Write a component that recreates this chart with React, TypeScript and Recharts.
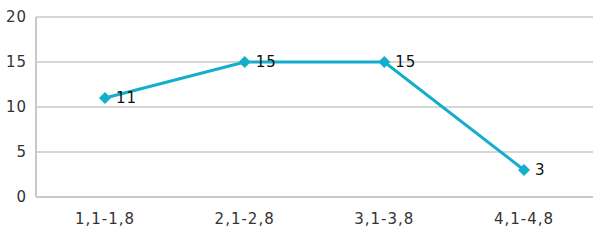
import { LineChart, Line, XAxis, YAxis, CartesianGrid, LabelList } from 'recharts'

const categories = ['1,1-1,8', '2,1-2,8', '3,1-3,8', '4,1-4,8']
const counts = [11, 15, 15, 3]
const yTicks = [0, 5, 10, 15, 20]

const data = categories.map((name, i) => ({ name, value: counts[i] }))

const Diamond = (props: any) => {
  const { cx, cy } = props
  if (cx == null || cy == null) return null
  const r = 6
  return (
    <path
      d={`M${cx},${cy - r}L${cx + r},${cy}L${cx},${cy + r}L${cx - r},${cy}Z`}
      fill="#13aecb"
    />
  )
}

const tickStyle = { fill: '#333', fontSize: 15, letterSpacing: 1 }

export default function App() {
  return (
    <div style={{ position: 'absolute', left: 0, top: 0, background: '#fff' }}>
      <LineChart
        width={606}
        height={243}
        data={data}
        margin={{ top: 17, right: 13, bottom: 16, left: 0 }}
        style={{ fontFamily: 'DejaVu Sans, Verdana, sans-serif' }}
      >
        <CartesianGrid vertical={false} stroke="#c8c8c8" strokeWidth={1.5} />
        <XAxis
          dataKey="name"
          stroke="#c8c8c8"
          strokeWidth={2}
          tickLine={false}
          padding={{ left: 69, right: 69 }}
          tick={tickStyle}
          tickMargin={10}
          height={30}
        />
        <YAxis
          width={36}
          domain={[0, 20]}
          ticks={yTicks}
          stroke="#c8c8c8"
          strokeWidth={2}
          tickLine={false}
          tick={tickStyle}
          tickMargin={3}
        />
        <Line
          type="linear"
          dataKey="value"
          stroke="#13aecb"
          strokeWidth={3}
          dot={<Diamond />}
          activeDot={false}
          isAnimationActive={false}
        >
          <LabelList
            dataKey="value"
            position="right"
            offset={11}
            fill="#111"
            fontSize={15}
            letterSpacing={1}
          />
        </Line>
      </LineChart>
    </div>
  )
}
